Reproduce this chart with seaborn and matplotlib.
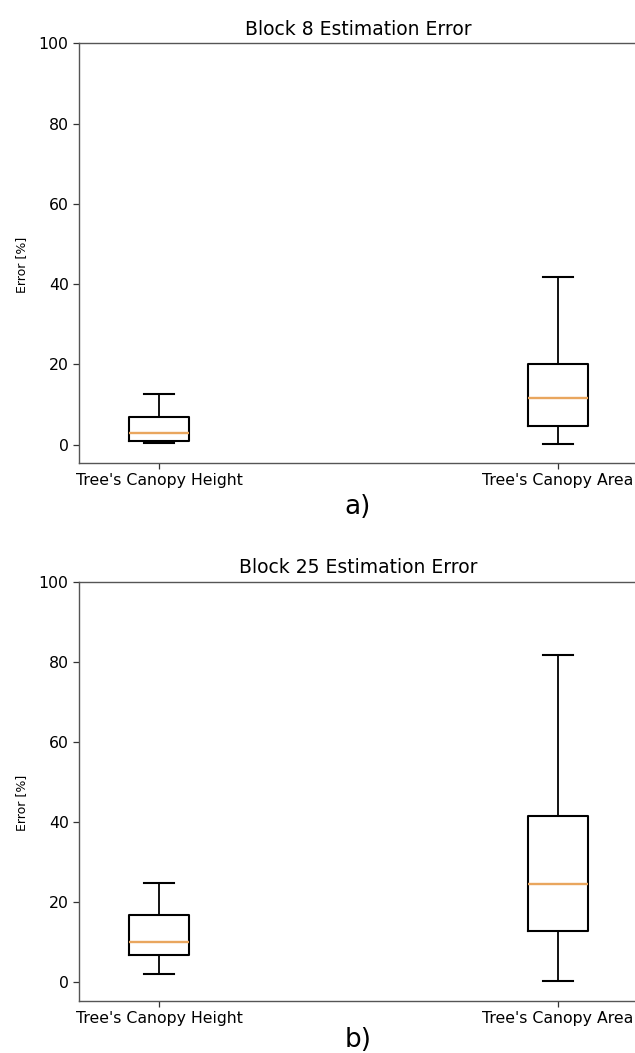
import numpy as np
import pandas as pd
import matplotlib
matplotlib.use("Agg")
import matplotlib.pyplot as plt
import seaborn as sns

# ---- data (five-number summaries) ----
categories = ["Tree's Canopy Height", "Tree's Canopy Area"]
block8_height = [0.3, 0.9, 2.9, 6.9, 12.6]
block8_area = [0.2, 4.7, 11.6, 20.1, 41.8]
block25_height = [1.9, 6.6, 10.0, 16.8, 24.6]
block25_area = [0.1, 12.8, 24.4, 41.4, 81.7]
titles = ["Block 8 Estimation Error", "Block 25 Estimation Error"]
panel_labels = ["a)", "b)"]
yticks = [0, 20, 40, 60, 80, 100]

plt.rcParams['font.family'] = ['DejaVu Sans']

def make_df(h, a):
    return pd.DataFrame({
        "category": [categories[0]] * len(h) + [categories[1]] * len(a),
        "value": list(h) + list(a),
    })

fig = plt.figure(figsize=(6.35, 10.53), dpi=100)
positions = [
    [79 / 635, 1 - 463 / 1053, (638 - 79) / 635, (463 - 43.3) / 1053],
    [79 / 635, 1 - 1000.7 / 1053, (638 - 79) / 635, (1000.7 - 581.7) / 1053],
]
ybottoms = [-4.6, -4.75]
label_y = [507, 1040]
datasets = [(block8_height, block8_area), (block25_height, block25_area)]

for i, (h, a) in enumerate(datasets):
    ax = fig.add_axes(positions[i])
    df = make_df(h, a)
    sns.boxplot(data=df, x="category", y="value", order=categories, ax=ax,
                width=0.15, whis=(0, 100), fill=False, color="black",
                linecolor="black", linewidth=1.5,
                medianprops={"color": "#e9a65e", "linewidth": 1.7},
                whiskerprops={"linewidth": 1.3},
                capprops={"linewidth": 1.5})
    ax.set_xlim(-0.2005, 1.2005)
    ax.set_ylim(ybottoms[i], 100)
    ax.set_yticks(yticks)
    ax.set_xlabel("")
    ax.set_ylabel("Error [%]", fontsize=9)
    ax.yaxis.set_label_coords(-0.092, 0.472)
    ax.set_title(titles[i], fontsize=13.5)
    ax.tick_params(axis="both", labelsize=11.3, length=4, width=0.9, color="#333333")
    for s in ax.spines.values():
        s.set_color("#555555")
        s.set_linewidth(1.0)
    fig.text(358 / 635, 1 - label_y[i] / 1053, panel_labels[i], ha="center",
             va="center", fontsize=19)

fig.savefig("out.png", dpi=100)
